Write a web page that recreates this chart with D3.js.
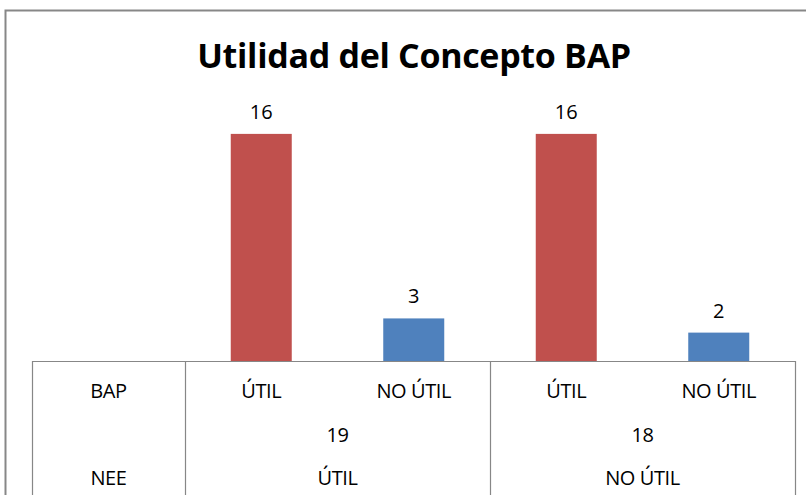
<!DOCTYPE html>
<html>
<head>
<meta charset="utf-8">
<script src="https://cdn.jsdelivr.net/npm/d3@7"></script>
<style>
  body { margin: 0; background: #fff; }
  text { font-family: "Open Sans", "Noto Sans", sans-serif; fill: #000; }
  .cell { letter-spacing: -0.4px; }
</style>
</head>
<body>
<div id="chart"></div>
<script>
const title = 'Utilidad del Concepto BAP';
const bapLabels = ['ÚTIL', 'NO ÚTIL', 'ÚTIL', 'NO ÚTIL'];
const neeLabels = ['ÚTIL', 'NO ÚTIL'];
const neeTotals = [19, 18];
const values = [16, 3, 16, 2];
const rowNames = ['BAP', 'NEE'];

const red = '#C0504D';
const blue = '#4F81BD';
const lineGray = '#878787';

const width = 806;
const height = 495;
const baseY = 361;
const tableLeft = 32;
const tableX0 = 185;
const tableX1 = 795;

const svg = d3.select('#chart').append('svg')
  .attr('width', width)
  .attr('height', height)
  .attr('viewBox', `0 0 ${width} ${height}`);

// outer frame (only top and left edges are in view)
svg.append('path')
  .attr('d', `M 5.5 ${height} V 10.5 H ${width}`)
  .attr('fill', 'none')
  .attr('stroke', lineGray)
  .attr('stroke-width', 2);

svg.append('text')
  .attr('x', 414)
  .attr('y', 68)
  .attr('text-anchor', 'middle')
  .attr('font-size', 34)
  .attr('font-weight', 'bold')
  .attr('letter-spacing', -0.3)
  .text(title);

// scales
const bars = values.map((v, i) => ({ key: i, value: v, label: bapLabels[i] }));
const x = d3.scaleBand().domain(bars.map(d => d.key)).range([tableX0, tableX1])
  .paddingInner(0.6).paddingOuter(0.3);
const xCell = d3.scaleBand().domain(bars.map(d => d.key)).range([tableX0, tableX1]);
const xGroup = d3.scaleBand().domain(neeLabels.map((d, i) => i)).range([tableX0, tableX1]);
const y = d3.scaleLinear().domain([0, 18]).range([baseY, 105.5]);

// bars
svg.append('g').selectAll('rect').data(bars).enter()
  .append('rect')
  .attr('x', d => x(d.key))
  .attr('y', d => y(d.value))
  .attr('width', x.bandwidth())
  .attr('height', d => y(0) - y(d.value) + 1)
  .attr('fill', (d, i) => i % 2 === 0 ? red : blue);

// value labels
svg.append('g').selectAll('text').data(bars).enter()
  .append('text')
  .attr('x', d => x(d.key) + x.bandwidth() / 2)
  .attr('y', d => y(d.value) - 15)
  .attr('text-anchor', 'middle')
  .attr('font-size', 20)
  .text(d => d.value);

// data table lines
const grid = svg.append('g')
  .attr('stroke', lineGray)
  .attr('stroke-width', 1.2)
  .attr('fill', 'none');
grid.append('line')
  .attr('x1', tableLeft).attr('x2', tableX1)
  .attr('y1', baseY + 0.5).attr('y2', baseY + 0.5);
const vLines = [tableLeft].concat(xGroup.domain().map(i => xGroup(i)), [tableX1]);
grid.selectAll('.vline').data(vLines).enter()
  .append('line')
  .attr('class', 'vline')
  .attr('x1', d => d + 0.5).attr('x2', d => d + 0.5)
  .attr('y1', baseY).attr('y2', height);

// table text
const rowY = [398, 442, 485];
svg.append('g').selectAll('text').data(rowNames).enter()
  .append('text')
  .attr('class', 'cell')
  .attr('x', (tableLeft + tableX0) / 2)
  .attr('y', (d, i) => i === 0 ? rowY[0] : rowY[2])
  .attr('text-anchor', 'middle')
  .attr('font-size', 20)
  .text(d => d);

svg.append('g').selectAll('text').data(bars).enter()
  .append('text')
  .attr('class', 'cell')
  .attr('x', d => xCell(d.key) + xCell.bandwidth() / 2)
  .attr('y', rowY[0])
  .attr('text-anchor', 'middle')
  .attr('font-size', 20)
  .text(d => d.label);

svg.append('g').selectAll('text').data(neeTotals).enter()
  .append('text')
  .attr('class', 'cell')
  .attr('x', (d, i) => xGroup(i) + xGroup.bandwidth() / 2)
  .attr('y', rowY[1])
  .attr('text-anchor', 'middle')
  .attr('font-size', 20)
  .text(d => d);

svg.append('g').selectAll('text').data(neeLabels).enter()
  .append('text')
  .attr('class', 'cell')
  .attr('x', (d, i) => xGroup(i) + xGroup.bandwidth() / 2)
  .attr('y', rowY[2])
  .attr('text-anchor', 'middle')
  .attr('font-size', 20)
  .text(d => d);
</script>
</body>
</html>
